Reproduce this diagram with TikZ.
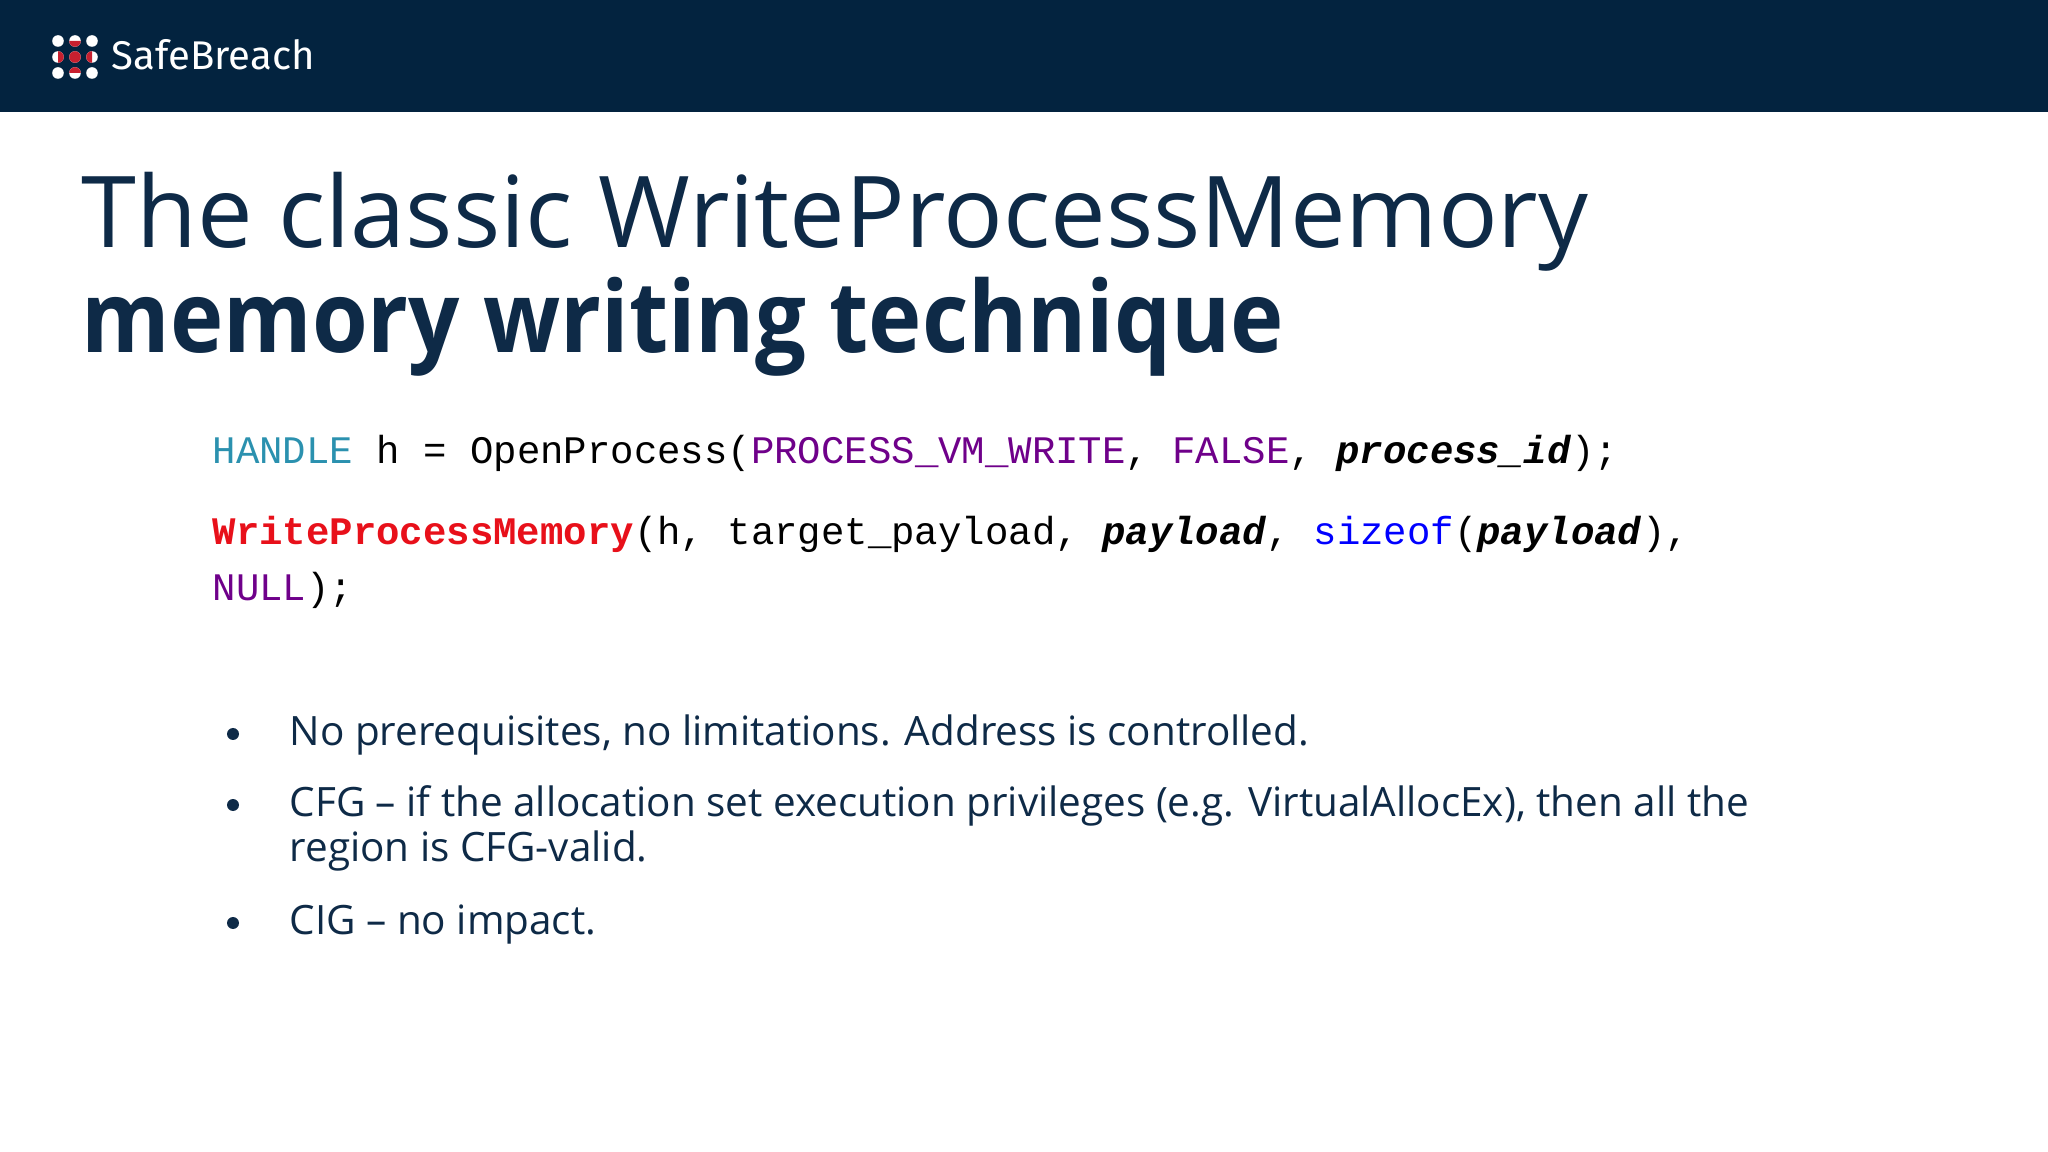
\documentclass[tikz,border=0pt]{standalone}
\usepackage{fontspec}
\setmainfont{Open Sans}
\newfontfamily\logofont{Fira Sans}
\setmonofont{Liberation Mono}
\definecolor{navy}{HTML}{03233F}
\definecolor{title}{HTML}{0E2A47}
\definecolor{teal}{HTML}{2B91AF}
\definecolor{purp}{HTML}{6F008A}
\definecolor{kwblue}{HTML}{0000FF}
\definecolor{fnred}{HTML}{E8101A}
\definecolor{logored}{HTML}{C8202F}
\begin{document}
\begin{tikzpicture}[x=1cm,y=1cm,
  txt/.style={anchor=base west,inner sep=0pt,text=title},
  code/.style={anchor=base west,inner sep=0pt,text=black,font=\ttfamily\fontsize{11.1}{13}\selectfont},
  bul/.style={anchor=base west,inner sep=0pt,text=title,font=\fontsize{11.5}{13.5}\selectfont},
]
\useasboundingbox (0,0) rectangle (20.48,-11.52);
\fill[white] (0,0) rectangle (20.48,-11.52);
\fill[navy] (0,0) rectangle (20.48,-1.12);
% logo
\foreach \x in {0.58,0.75,0.92}{\foreach \y in {-0.41,-0.57,-0.73}{\fill[white] (\x,\y) circle (0.058);}}
\fill[logored] (0.75,-0.57) circle (0.058);
\fill[logored] (0.75,-0.41) ++(-0.058,0) arc (180:360:0.058) -- cycle;
\fill[logored] (0.75,-0.73) ++(-0.058,0) arc (180:0:0.058) -- cycle;
\fill[logored] (0.58,-0.57) ++(0,0.058) arc (90:-90:0.058) -- cycle;
\fill[logored] (0.92,-0.57) ++(0,0.058) arc (90:270:0.058) -- cycle;
\node[anchor=base west,inner sep=0pt,text=white,font=\logofont\fontsize{11.4}{12}\selectfont] (logo) at (1.11,-0.70) {SafeBreach};
% title
\node[txt,font=\fontsize{28.2}{34}\selectfont] (t1) at (0.81,-2.48) {The classic WriteProcessMemory};
\node[txt,font=\bfseries\fontsize{28.2}{34}\selectfont] (t2) at (0.81,-3.53) {\scalebox{0.91}[1]{memory writing technique}};
% code
\node[code] (c1) at (2.12,-4.64) {\textcolor{teal}{HANDLE} h = OpenProcess(\textcolor{purp}{PROCESS\_VM\_WRITE}, \textcolor{purp}{FALSE}, \textbf{\textit{process\_id}});};
\node[code] (c2) at (2.12,-5.45) {\textcolor{fnred}{\textbf{WriteProcessMemory}}(h, target\_payload, \textbf{\textit{payload}}, \textcolor{kwblue}{sizeof}(\textbf{\textit{payload}}),};
\node[code] (c3) at (2.12,-6.01) {\textcolor{purp}{NULL});};
% bullets
\foreach \y in {-7.45,-8.16,-9.34}{\fill[title] (2.33,\y+0.11) circle (0.06);}
\node[bul] (b1) at (2.89,-7.45) {No prerequisites, no limitations. Address is controlled.};
\node[bul] (b2) at (2.89,-8.16) {CFG – if the allocation set execution privileges (e.g. VirtualAllocEx), then all the};
\node[bul] (b2b) at (2.89,-8.62) {region is CFG-valid.};
\node[bul] (b3) at (2.89,-9.34) {CIG – no impact.};
\end{tikzpicture}
\end{document}
